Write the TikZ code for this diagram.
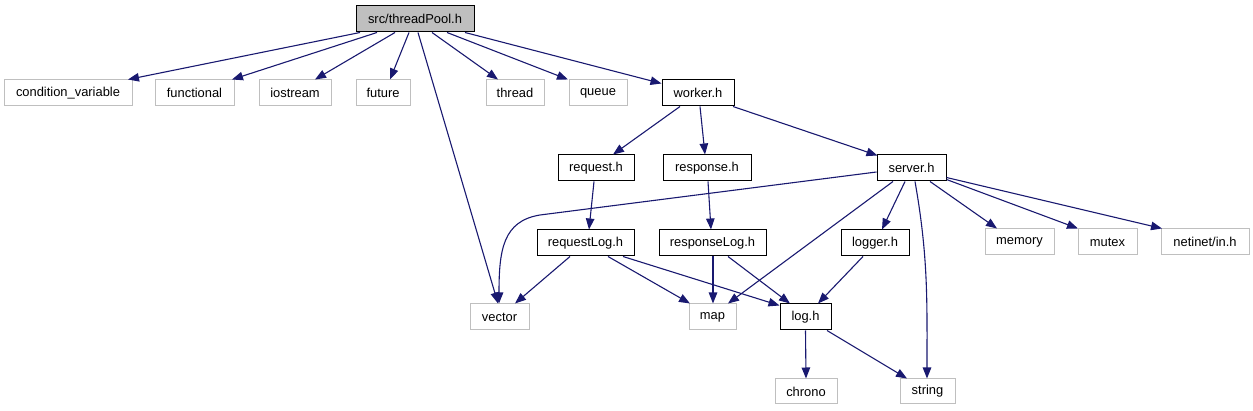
\documentclass[tikz,border=0pt]{standalone}
\usepackage{fontspec}
\setmainfont{Liberation Sans}
\usetikzlibrary{arrows.meta,calc}
\definecolor{edgeblue}{HTML}{191970}
\definecolor{boxgrey}{HTML}{BFBFBF}
\tikzset{
  base/.style={draw, line width=1pt, minimum height=26pt, inner sep=0pt, font=\fontsize{12.9}{14}\selectfont, anchor=center},
  sysbox/.style={base, draw=boxgrey},
  filebox/.style={base, draw=black},
  rootbox/.style={base, draw=black, fill=boxgrey},
  dep/.style={draw=edgeblue, line width=1.1pt, -{Triangle[length=11pt,width=8.5pt]}, edgeblue}
}
\begin{document}
\begin{tikzpicture}[x=1pt,y=-1pt]
\useasboundingbox (0,0) rectangle (1253,411);
% nodes
\node[rootbox, minimum width=118pt] (root) at (415,19) {src/threadPool.h};
\node[sysbox, minimum width=128pt] (cv) at (68,93) {condition\_variable};
\node[sysbox, minimum width=79pt] (functional) at (194.5,93) {functional};
\node[sysbox, minimum width=72pt] (iostream) at (295,93) {iostream};
\node[sysbox, minimum width=54pt] (future) at (383,93) {future};
\node[sysbox, minimum width=58pt] (thread) at (515,93) {thread};
\node[sysbox, minimum width=58pt] (queue) at (598,93) {queue};
\node[filebox, minimum width=72pt] (worker) at (698,93) {worker.h};
\node[filebox, minimum width=76pt] (request) at (596,168) {request.h};
\node[filebox, minimum width=88pt] (response) at (707,168) {response.h};
\node[filebox, minimum width=69pt] (server) at (911.5,168) {server.h};
\node[filebox, minimum width=97pt] (requestLog) at (585.5,243) {requestLog.h};
\node[filebox, minimum width=107pt] (responseLog) at (712.5,243) {responseLog.h};
\node[filebox, minimum width=68pt] (logger) at (875,243) {logger.h};
\node[sysbox, minimum width=69pt] (memory) at (1019.5,242) {memory};
\node[sysbox, minimum width=59pt] (mutex) at (1107.5,242) {mutex};
\node[sysbox, minimum width=88pt] (netinet) at (1205,242) {netinet/in.h};
\node[sysbox, minimum width=59pt] (vector) at (499.5,317) {vector};
\node[sysbox, minimum width=47pt] (map) at (712.5,317) {map};
\node[filebox, minimum width=51pt] (log) at (805.5,317) {log.h};
\node[sysbox, minimum width=62pt, minimum height=25pt] (chrono) at (806,391.5) {chrono};
\node[sysbox, minimum width=55pt, minimum height=25pt] (string) at (927.5,391.5) {string};
\coordinate (vbend) at (540,215);
% edges from root
\draw[dep] ([xshift=-55pt]root.south) -- ([xshift=60pt]cv.north);
\draw[dep] ([xshift=-38pt]root.south) -- ([xshift=37.5pt]functional.north);
\draw[dep] ([xshift=-20pt]root.south) -- ([xshift=20pt]iostream.north);
\draw[dep] ([xshift=-6pt]root.south) -- ([xshift=7pt]future.north);
\draw[dep] ([xshift=3pt]root.south) -- ([xshift=-1.5pt]vector.north);
\draw[dep] ([xshift=17pt]root.south) -- ([xshift=-17pt]thread.north);
\draw[dep] ([xshift=32pt]root.south) -- ([xshift=-30pt]queue.north);
\draw[dep] ([xshift=50pt]root.south) -- ([yshift=-4pt]worker.north west);
% worker
\draw[dep] ([xshift=-18pt]worker.south) -- ([xshift=17pt]request.north);
\draw[dep] ([xshift=2pt]worker.south) -- ([xshift=-2pt]response.north);
\draw[dep] ([xshift=35pt]worker.south) -- ([xshift=1pt,yshift=-1pt]server.north west);
% request/response
\draw[dep] ([xshift=-2pt]request.south) -- ([xshift=3.5pt]requestLog.north);
\draw[dep] ([xshift=1pt]response.south) -- ([xshift=-1.5pt]responseLog.north);
% server
\draw[dep] ([yshift=-4pt]server.west) -- (vbend) .. controls (503,221) and (499,250) .. ([xshift=-0.5pt]vector.north);
\draw[dep] ([xshift=-18.5pt]server.south) -- ([xshift=15.5pt]map.north);
\draw[dep] ([xshift=-6.5pt]server.south) -- ([xshift=7pt]logger.north);
\draw[dep] ([xshift=3.5pt]server.south) to[out=-80,in=90] ([xshift=-0.5pt]string.north);
\draw[dep] ([xshift=18.5pt]server.south) -- ([xshift=-22.5pt]memory.north);
\draw[dep] ([yshift=2pt]server.south east) -- ([xshift=-29.5pt]mutex.north);
\draw[dep] ([yshift=4pt]server.south east) -- ([xshift=-43pt]netinet.north);
% requestLog
\draw[dep] ([xshift=-15.5pt]requestLog.south) -- ([xshift=15.5pt]vector.north);
\draw[dep] ([xshift=22.5pt]requestLog.south) -- ([xshift=-22.5pt]map.north);
\draw[dep] ([xshift=37.5pt]requestLog.south) -- ([yshift=-2pt]log.north west);
% responseLog
\draw[dep] ([xshift=0.5pt]responseLog.south) -- ([xshift=0.5pt]map.north);
\draw[dep] ([xshift=15.5pt]responseLog.south) -- ([xshift=-15.5pt]log.north);
% logger
\draw[dep] ([xshift=-12pt]logger.south) -- ([xshift=12.5pt]log.north);
% log
\draw[dep] (log.south) -- (chrono.north);
\draw[dep] ([xshift=21.5pt]log.south) -- ([xshift=-20.5pt]string.north);
\end{tikzpicture}
\end{document}
